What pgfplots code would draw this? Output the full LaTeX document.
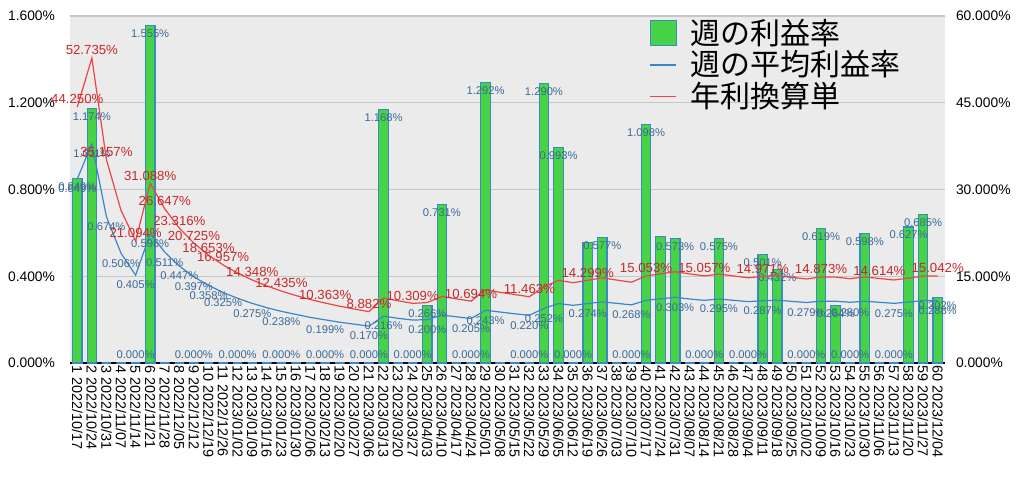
\documentclass[border=0pt]{standalone}
\usepackage{pgfplots}
\pgfplotsset{compat=1.18}
\usepackage{pgfplotstable}
\usepackage{fontspec}
\setmainfont{Liberation Sans}
\newfontfamily\jp{Noto Sans CJK JP}
\definecolor{barfill}{HTML}{46D446}
\definecolor{barline}{HTML}{3B8BC2}
\definecolor{avgline}{HTML}{3A87C8}
\definecolor{avglab}{HTML}{3A6A98}
\definecolor{annline}{HTML}{EE4444}
\definecolor{annlab}{HTML}{C8282C}
\definecolor{plotbg}{HTML}{EBEBEB}

% week, weekly rate, running average, annualised (all in %)
\pgfplotstableread{
wk bar avg ann
1 0.849 0.849 44.250
2 1.174 1.011 52.735
3 0 0.674 35.157
4 0 0.506 26.371
5 0 0.405 21.094
6 1.555 0.596 31.088
7 0 0.511 26.647
8 0 0.447 23.316
9 0 0.397 20.725
10 0 0.358 18.653
11 0 0.325 16.957
12 0 0.298 15.544
13 0 0.275 14.348
14 0 0.255 13.323
15 0 0.238 12.435
16 0 0.224 11.658
17 0 0.210 10.972
18 0 0.199 10.363
19 0 0.188 9.818
20 0 0.179 9.327
21 0 0.170 8.882
22 1.168 0.216 11.249
23 0 0.206 10.760
24 0 0.198 10.309
25 0.266 0.200 10.454
26 0.731 0.221 11.517
27 0 0.213 11.091
28 0 0.205 10.694
29 1.292 0.243 12.649
30 0 0.235 12.228
31 0 0.227 11.833
32 0 0.220 11.463
33 1.290 0.252 13.154
34 0.993 0.274 14.290
35 0 0.266 13.882
36 0.554 0.274 14.299
37 0.577 0.282 14.726
38 0 0.275 14.338
39 0 0.268 13.970
40 1.098 0.289 15.053
41 0.585 0.296 15.429
42 0.573 0.303 15.773
43 0 0.295 15.407
44 0 0.289 15.057
45 0.575 0.295 15.388
46 0 0.289 15.054
47 0 0.283 14.733
48 0.501 0.287 14.971
49 0.432 0.290 15.125
50 0 0.284 14.822
51 0 0.279 14.532
52 0.619 0.285 14.873
53 0.264 0.285 14.852
54 0 0.280 14.577
55 0.598 0.285 14.879
56 0 0.280 14.614
57 0 0.275 14.357
58 0.627 0.281 14.673
59 0.685 0.288 15.030
60 0.302 0.288 15.042
}\weekly

\pgfplotsset{
  lab/.style={draw=none, mark=none, forget plot, nodes near coords,
    point meta=y,
    nodes near coords={\pgfmathprintnumber[fixed,fixed zerofill,precision=3,assume math mode=true]{\pgfplotspointmeta}\%}},
}

\begin{document}
\begin{tikzpicture}
\useasboundingbox (0,0) rectangle (512pt,239.5pt);
\begin{axis}[
  at={(35pt,58pt)}, anchor=south west,
  width=437.5pt, height=173.5pt, scale only axis, clip=false,
  xmin=0.5, xmax=60.5, ymin=0, ymax=1.6,
  axis background/.style={fill=plotbg},
  axis x line*=bottom, axis y line*=left,
  y axis line style={draw=none},
  x axis line style={black, line width=1.2pt, -},
  major tick length=0pt,
  ymajorgrids, grid style={gray!45, line width=0.6pt},
  ytick={0,0.4,0.8,1.2,1.6},
  yticklabels={0.000\%,0.400\%,0.800\%,1.200\%,1.600\%},
  y tick label style={font=\fontsize{6.9}{8}\selectfont, xshift=-4pt},
  xtick={1,...,60},
  xticklabels={1 2022/10/17,2 2022/10/24,3 2022/10/31,4 2022/11/07,5 2022/11/14,6 2022/11/21,7 2022/11/28,8 2022/12/05,9 2022/12/12,10 2022/12/19,11 2022/12/26,12 2023/01/02,13 2023/01/09,14 2023/01/16,15 2023/01/23,16 2023/01/30,17 2023/02/06,18 2023/02/13,19 2023/02/20,20 2023/02/27,21 2023/03/06,22 2023/03/13,23 2023/03/20,24 2023/03/27,25 2023/04/03,26 2023/04/10,27 2023/04/17,28 2023/04/24,29 2023/05/01,30 2023/05/08,31 2023/05/15,32 2023/05/22,33 2023/05/29,34 2023/06/05,35 2023/06/12,36 2023/06/19,37 2023/06/26,38 2023/07/03,39 2023/07/10,40 2023/07/17,41 2023/07/24,42 2023/07/31,43 2023/08/07,44 2023/08/14,45 2023/08/21,46 2023/08/28,47 2023/09/04,48 2023/09/11,49 2023/09/18,50 2023/09/25,51 2023/10/02,52 2023/10/09,53 2023/10/16,54 2023/10/23,55 2023/10/30,56 2023/11/06,57 2023/11/13,58 2023/11/20,59 2023/11/27,60 2023/12/04},
  x tick label style={rotate=-90, anchor=west, font=\fontsize{7.2}{8}\selectfont, inner sep=1pt},
  legend style={at={(0.655,1.008)}, anchor=north west, draw=none, fill=none,
    font=\fontsize{15}{15}\jp, row sep=0pt, column sep=6pt,
    nodes={inner sep=0.8pt}},
  legend cell align=left,
]
\addplot[ybar, bar width=0.65, fill=barfill, draw=barline, line width=0.6pt,
  legend image code/.code={\draw[fill=barfill,draw=barline,line width=0.7pt] (0pt,-6pt) rectangle (13pt,6.5pt);}]
  table[x=wk,y=bar]{\weekly};
\addlegendentry{週の利益率}
\addplot[avgline, line width=0.6pt, mark=none,
  legend image code/.code={\draw[avgline,line width=0.8pt] (0pt,0pt) -- (13pt,0pt);}]
  table[x=wk,y=avg]{\weekly};
\addlegendentry{週の平均利益率}
\addlegendimage{legend image code/.code={\draw[annline,line width=0.8pt] (0pt,0pt) -- (13pt,0pt);}}
\addlegendentry{年利換算単}
% bar value labels
\addplot[lab, every node near coord/.append style={text=avglab, anchor=north, inner sep=0.8pt, yshift=-1pt, font=\fontsize{5.6}{6}\selectfont}]
  coordinates {(1,0.849)(2,1.174)(6,1.555)(22,1.168)(25,0.266)(26,0.731)(29,1.292)(33,1.290)(34,0.993)(37,0.577)(40,1.098)(42,0.573)(45,0.575)(48,0.501)(49,0.432)(52,0.619)(53,0.264)(55,0.598)(58,0.627)(59,0.685)(60,0.302)};
\addplot[lab, every node near coord/.append style={text=avglab, anchor=south, inner sep=0.8pt, yshift=1pt, font=\fontsize{5.6}{6}\selectfont}]
  coordinates {(5,0)(9,0)(12,0)(15,0)(18,0)(21,0)(24,0)(28,0)(32,0)(35,0)(39,0)(44,0)(47,0)(51,0)(54,0)(57,0)};
% running average labels
\addplot[lab, every node near coord/.append style={text=avglab, anchor=north, inner sep=0.8pt, yshift=-2pt, font=\fontsize{5.6}{6}\selectfont}]
  coordinates {(1,0.849)(2,1.011)(3,0.674)(4,0.506)(5,0.405)(6,0.596)(7,0.511)(8,0.447)(9,0.397)(10,0.358)(11,0.325)(13,0.275)(15,0.238)(18,0.199)(21,0.170)(22,0.216)(25,0.200)(28,0.205)(29,0.243)(32,0.220)(33,0.252)(36,0.274)(39,0.268)(42,0.303)(45,0.295)(48,0.287)(51,0.279)(54,0.280)(57,0.275)(60,0.288)};
\end{axis}
\begin{axis}[
  at={(35pt,58pt)}, anchor=south west,
  width=437.5pt, height=173.5pt, scale only axis, clip=false,
  xmin=0.5, xmax=60.5, ymin=0, ymax=60,
  axis x line=none, axis y line*=right,
  y axis line style={draw=none},
  major tick length=0pt,
  ytick={0,15,30,45,60},
  yticklabels={0.000\%,15.000\%,30.000\%,45.000\%,60.000\%},
  y tick label style={font=\fontsize{6.9}{8}\selectfont, xshift=2pt},
]
\addplot[annline, line width=0.6pt, mark=none] table[x=wk,y=ann]{\weekly};
\addplot[lab, every node near coord/.append style={text=annlab, anchor=south, inner sep=0.8pt, yshift=0.5pt, font=\fontsize{6.6}{7}\selectfont}]
  coordinates {(1,44.250)(2,52.735)(3,35.157)(5,21.094)(6,31.088)(7,26.647)(8,23.316)(9,20.725)(10,18.653)(11,16.957)(13,14.348)(15,12.435)(18,10.363)(21,8.882)(24,10.309)(28,10.694)(32,11.463)(36,14.299)(40,15.053)(44,15.057)(48,14.971)(52,14.873)(56,14.614)(60,15.042)};
\end{axis}
\end{tikzpicture}
\end{document}
